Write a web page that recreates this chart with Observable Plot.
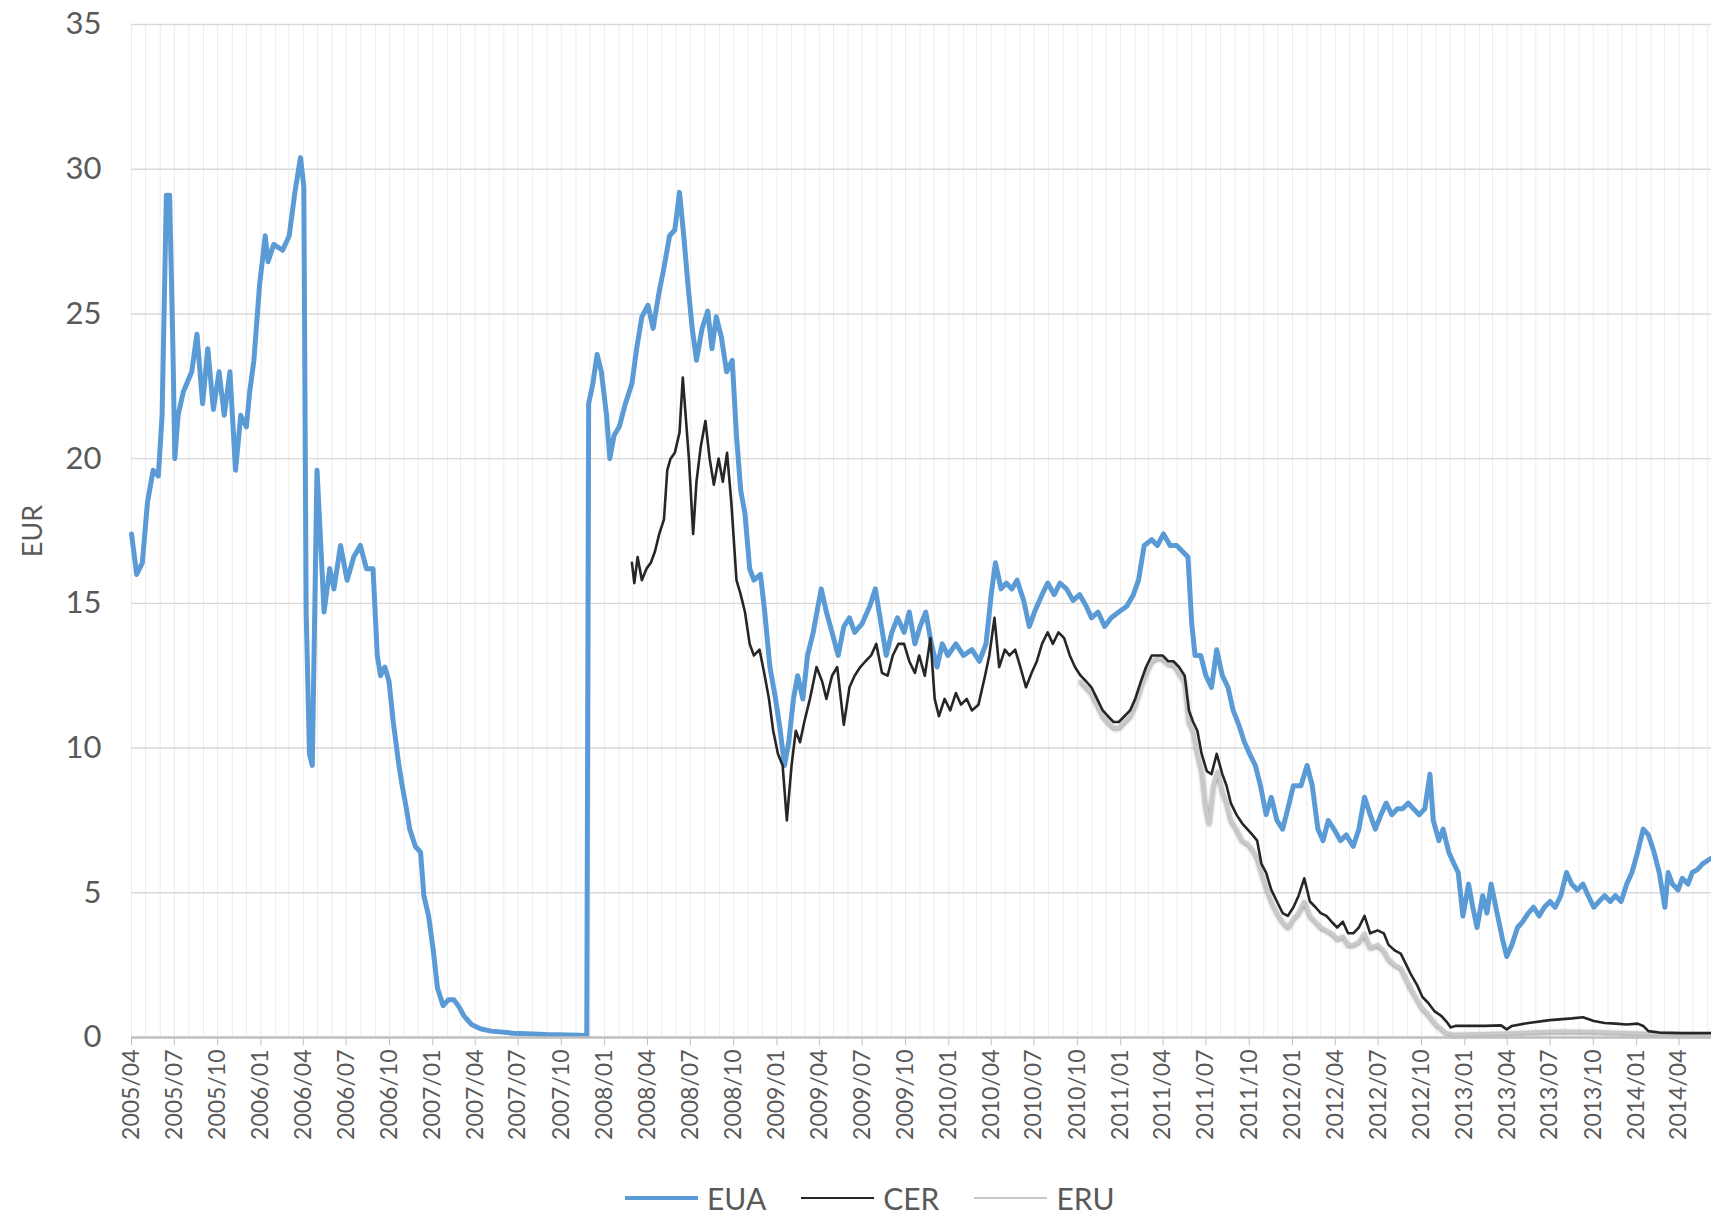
<!DOCTYPE html>
<html>
<head>
<meta charset="utf-8">
<script src="https://cdn.jsdelivr.net/npm/d3@7"></script>
<script src="https://cdn.jsdelivr.net/npm/@observablehq/plot@0.6"></script>
<style>
  html, body { margin: 0; padding: 0; background: #fff; }
  body { width: 1711px; height: 1217px; position: relative; overflow: hidden; font-family: Lato, "Open Sans", sans-serif; color: #595959; }
  #chart { position: absolute; left: 0; top: 0; }
  #legend { position: absolute; left: 625px; top: 1180px; display: flex; align-items: center; font-size: 30px; color: #595959; }
  .item { display: flex; align-items: center; margin-right: 35px; }
  .sw { width: 73px; margin-right: 9px; }
</style>
</head>
<body>
<div id="chart"></div>
<div id="legend"></div>
<script>
// ---- data ----
const seriesNames = ["EUA", "CER", "ERU"];
const seriesColors = ["#5b9bd5", "#262626", "#c9c9c9"];
const yTicks = [0, 5, 10, 15, 20, 25, 30, 35];

const euaData = [
["2005-04-01",17.4],["2005-04-12",16.0],["2005-04-24",16.4],["2005-05-05",18.5],["2005-05-17",19.6],["2005-05-28",19.4],
["2005-06-05",21.5],["2005-06-14",29.1],["2005-06-21",29.1],["2005-06-28",23.8],["2005-07-02",20.0],["2005-07-09",21.5],
["2005-07-20",22.3],["2005-08-07",23.0],["2005-08-18",24.3],["2005-08-30",21.9],["2005-09-10",23.8],["2005-09-22",21.7],
["2005-10-04",23.0],["2005-10-15",21.5],["2005-10-27",23.0],["2005-11-08",19.6],["2005-11-19",21.5],["2005-12-01",21.1],
["2005-12-08",22.3],["2005-12-17",23.4],["2005-12-29",26.0],["2006-01-10",27.7],["2006-01-16",26.8],["2006-01-28",27.4],
["2006-02-16",27.2],["2006-03-02",27.7],["2006-03-14",29.2],["2006-03-26",30.4],["2006-04-02",29.4],["2006-04-07",14.7],
["2006-04-14",9.8],["2006-04-20",9.4],["2006-04-30",19.6],["2006-05-06",17.7],["2006-05-15",14.7],["2006-05-27",16.2],
["2006-06-05",15.5],["2006-06-19",17.0],["2006-07-03",15.8],["2006-07-17",16.6],["2006-07-31",17.0],["2006-08-13",16.2],
["2006-08-27",16.2],["2006-09-05",13.2],["2006-09-12",12.5],["2006-09-21",12.8],["2006-09-30",12.3],["2006-10-09",10.9],
["2006-10-21",9.4],["2006-10-28",8.7],["2006-11-06",7.9],["2006-11-13",7.2],["2006-11-25",6.6],["2006-12-06",6.4],
["2006-12-13",4.9],["2006-12-23",4.2],["2007-01-02",3.0],["2007-01-11",1.7],["2007-01-23",1.1],["2007-02-03",1.3],
["2007-02-15",1.3],["2007-02-26",1.05],["2007-03-08",0.75],["2007-03-24",0.45],["2007-04-12",0.3],["2007-05-05",0.22],
["2007-06-21",0.15],["2007-08-30",0.1],["2007-11-08",0.08],["2007-11-24",0.06],["2007-11-28",21.9],["2007-12-07",22.6],
["2007-12-16",23.6],["2007-12-25",23.0],["2008-01-05",21.5],["2008-01-12",20.0],["2008-01-21",20.8],["2008-02-01",21.1],
["2008-02-14",21.9],["2008-02-28",22.6],["2008-03-09",23.8],["2008-03-20",24.9],["2008-04-02",25.3],["2008-04-13",24.5],
["2008-04-25",25.7],["2008-05-06",26.6],["2008-05-18",27.7],["2008-05-29",27.9],["2008-06-08",29.2],["2008-06-17",27.7],
["2008-06-26",26.0],["2008-07-05",24.5],["2008-07-14",23.4],["2008-07-26",24.5],["2008-08-07",25.1],["2008-08-16",23.8],
["2008-08-25",24.9],["2008-09-05",24.2],["2008-09-16",23.0],["2008-09-28",23.4],["2008-10-07",20.8],["2008-10-16",18.9],
["2008-10-25",18.1],["2008-11-04",16.2],["2008-11-13",15.8],["2008-11-27",16.0],["2008-12-06",14.7],["2008-12-17",12.8],
["2008-12-29",11.7],["2009-01-08",10.6],["2009-01-17",9.4],["2009-01-26",10.2],["2009-02-05",11.7],["2009-02-14",12.5],
["2009-02-25",11.7],["2009-03-07",13.2],["2009-03-19",14.0],["2009-04-05",15.5],["2009-04-16",14.7],["2009-04-28",14.0],
["2009-05-11",13.2],["2009-05-23",14.2],["2009-06-04",14.5],["2009-06-15",14.0],["2009-07-01",14.3],["2009-07-17",14.9],
["2009-07-29",15.5],["2009-08-10",14.3],["2009-08-21",13.2],["2009-09-02",14.0],["2009-09-14",14.5],["2009-09-28",14.0],
["2009-10-09",14.7],["2009-10-21",13.6],["2009-11-01",14.2],["2009-11-13",14.7],["2009-11-25",13.6],["2009-12-07",12.8],
["2009-12-18",13.6],["2009-12-30",13.2],["2010-01-16",13.6],["2010-02-01",13.2],["2010-02-19",13.4],["2010-03-07",13.0],
["2010-03-21",13.6],["2010-04-01",15.3],["2010-04-10",16.4],["2010-04-22",15.5],["2010-05-03",15.7],["2010-05-15",15.5],
["2010-05-26",15.8],["2010-06-09",15.1],["2010-06-21",14.2],["2010-07-02",14.7],["2010-07-18",15.3],["2010-07-30",15.7],
["2010-08-13",15.3],["2010-08-25",15.7],["2010-09-08",15.5],["2010-09-22",15.1],["2010-10-06",15.3],["2010-10-20",14.9],
["2010-10-31",14.5],["2010-11-14",14.7],["2010-11-28",14.2],["2010-12-12",14.5],["2010-12-28",14.7],["2011-01-14",14.9],
["2011-01-28",15.3],["2011-02-08",15.8],["2011-02-20",17.0],["2011-03-08",17.2],["2011-03-20",17.0],["2011-04-02",17.4],
["2011-04-16",17.0],["2011-04-30",17.0],["2011-05-12",16.8],["2011-05-24",16.6],["2011-06-01",14.3],["2011-06-08",13.2],
["2011-06-20",13.2],["2011-07-01",12.5],["2011-07-13",12.1],["2011-07-24",13.4],["2011-08-05",12.5],["2011-08-17",12.1],
["2011-08-28",11.3],["2011-09-09",10.8],["2011-09-21",10.2],["2011-10-02",9.8],["2011-10-14",9.4],["2011-10-25",8.7],
["2011-11-06",7.7],["2011-11-17",8.3],["2011-11-29",7.5],["2011-12-11",7.2],["2011-12-22",7.9],["2012-01-03",8.7],
["2012-01-19",8.7],["2012-02-01",9.4],["2012-02-12",8.7],["2012-02-24",7.2],["2012-03-06",6.8],["2012-03-17",7.5],
["2012-03-29",7.2],["2012-04-12",6.8],["2012-04-24",7.0],["2012-05-09",6.6],["2012-05-21",7.2],["2012-06-02",8.3],
["2012-06-14",7.7],["2012-06-25",7.2],["2012-07-07",7.7],["2012-07-18",8.1],["2012-07-30",7.7],["2012-08-11",7.9],
["2012-08-22",7.9],["2012-09-03",8.1],["2012-09-14",7.9],["2012-09-26",7.7],["2012-10-08",7.9],["2012-10-19",9.1],
["2012-10-26",7.5],["2012-11-07",6.8],["2012-11-16",7.2],["2012-11-28",6.4],["2012-12-09",6.0],["2012-12-18",5.7],
["2012-12-28",4.2],["2013-01-09",5.3],["2013-01-18",4.5],["2013-01-27",3.8],["2013-02-08",4.9],["2013-02-17",4.3],
["2013-02-26",5.3],["2013-03-08",4.5],["2013-03-22",3.4],["2013-03-31",2.8],["2013-04-11",3.2],["2013-04-23",3.8],
["2013-05-04",4.0],["2013-05-16",4.3],["2013-05-27",4.5],["2013-06-08",4.2],["2013-06-19",4.5],["2013-07-01",4.7],
["2013-07-12",4.5],["2013-07-24",4.9],["2013-08-05",5.7],["2013-08-16",5.3],["2013-08-28",5.1],["2013-09-09",5.3],
["2013-09-20",4.9],["2013-10-02",4.5],["2013-10-13",4.7],["2013-10-25",4.9],["2013-11-06",4.7],["2013-11-17",4.9],
["2013-11-29",4.7],["2013-12-11",5.3],["2013-12-22",5.7],["2014-01-03",6.4],["2014-01-15",7.2],["2014-01-26",7.0],
["2014-02-07",6.4],["2014-02-18",5.7],["2014-03-02",4.5],["2014-03-09",5.7],["2014-03-18",5.3],["2014-03-30",5.1],
["2014-04-08",5.5],["2014-04-20",5.3],["2014-04-29",5.7],["2014-05-10",5.8],["2014-05-21",6.0],["2014-06-09",6.2]
];

const cerData = [
["2008-02-28",16.4],["2008-03-04",15.7],["2008-03-11",16.6],["2008-03-20",15.8],["2008-03-30",16.2],["2008-04-08",16.4],
["2008-04-17",16.8],["2008-04-26",17.4],["2008-05-06",17.9],["2008-05-13",19.6],["2008-05-20",20.0],["2008-05-29",20.2],
["2008-06-08",20.9],["2008-06-15",22.8],["2008-06-21",21.5],["2008-06-28",20.0],["2008-07-07",17.4],["2008-07-14",19.2],
["2008-07-23",20.4],["2008-08-02",21.3],["2008-08-11",20.0],["2008-08-20",19.1],["2008-08-30",20.0],["2008-09-08",19.2],
["2008-09-17",20.2],["2008-09-26",18.5],["2008-10-07",15.8],["2008-10-16",15.3],["2008-10-25",14.7],["2008-11-04",13.6],
["2008-11-13",13.2],["2008-11-25",13.4],["2008-12-06",12.5],["2008-12-15",11.7],["2008-12-24",10.6],["2009-01-03",9.8],
["2009-01-13",9.4],["2009-01-22",7.5],["2009-02-01",9.4],["2009-02-10",10.6],["2009-02-19",10.2],["2009-02-28",10.9],
["2009-03-12",11.7],["2009-03-26",12.8],["2009-04-07",12.3],["2009-04-16",11.7],["2009-04-28",12.5],["2009-05-09",12.8],
["2009-05-23",10.8],["2009-06-04",12.1],["2009-06-15",12.5],["2009-06-27",12.8],["2009-07-08",13.0],["2009-07-20",13.2],
["2009-07-31",13.6],["2009-08-12",12.6],["2009-08-24",12.5],["2009-09-04",13.2],["2009-09-16",13.6],["2009-09-28",13.6],
["2009-10-09",13.0],["2009-10-21",12.6],["2009-10-30",13.2],["2009-11-11",12.5],["2009-11-23",13.8],["2009-12-02",11.7],
["2009-12-11",11.1],["2009-12-23",11.7],["2010-01-04",11.3],["2010-01-16",11.9],["2010-01-27",11.5],["2010-02-08",11.7],
["2010-02-19",11.3],["2010-03-05",11.5],["2010-03-19",12.5],["2010-03-28",13.2],["2010-04-08",14.5],["2010-04-18",12.8],
["2010-04-30",13.4],["2010-05-10",13.2],["2010-05-22",13.4],["2010-06-02",12.8],["2010-06-14",12.1],["2010-06-26",12.6],
["2010-07-07",13.0],["2010-07-18",13.6],["2010-07-30",14.0],["2010-08-10",13.6],["2010-08-22",14.0],["2010-09-03",13.8],
["2010-09-15",13.2],["2010-09-26",12.8],["2010-10-08",12.5],["2010-10-20",12.3],["2010-10-31",12.1],["2010-11-12",11.7],
["2010-11-24",11.3],["2010-12-05",11.1],["2010-12-17",10.9],["2010-12-28",10.9],["2011-01-09",11.1],["2011-01-21",11.3],
["2011-02-01",11.7],["2011-02-13",12.3],["2011-02-24",12.8],["2011-03-08",13.2],["2011-03-20",13.2],["2011-03-31",13.2],
["2011-04-12",13.0],["2011-04-23",13.0],["2011-05-05",12.8],["2011-05-17",12.5],["2011-05-26",11.3],["2011-06-04",10.9],
["2011-06-13",10.6],["2011-06-22",9.8],["2011-07-03",9.2],["2011-07-13",9.1],["2011-07-24",9.8],["2011-08-05",9.1],
["2011-08-14",8.7],["2011-08-23",8.1],["2011-09-04",7.7],["2011-09-16",7.4],["2011-09-27",7.2],["2011-10-08",7.0],
["2011-10-18",6.8],["2011-10-27",6.0],["2011-11-06",5.7],["2011-11-17",5.1],["2011-11-29",4.7],["2011-12-11",4.3],
["2011-12-22",4.2],["2012-01-03",4.5],["2012-01-14",4.9],["2012-01-26",5.5],["2012-02-07",4.7],["2012-02-19",4.5],
["2012-03-01",4.3],["2012-03-13",4.2],["2012-03-24",4.0],["2012-04-05",3.8],["2012-04-17",4.0],["2012-04-28",3.6],
["2012-05-09",3.6],["2012-05-21",3.8],["2012-06-02",4.2],["2012-06-14",3.6],["2012-06-30",3.7],["2012-07-13",3.6],
["2012-07-23",3.2],["2012-08-06",3.0],["2012-08-18",2.9],["2012-08-30",2.5],["2012-09-08",2.2],["2012-09-22",1.8],
["2012-10-03",1.4],["2012-10-15",1.2],["2012-10-29",0.9],["2012-11-12",0.75],["2012-11-23",0.55],["2012-12-02",0.35],
["2012-12-12",0.4],["2013-01-09",0.4],["2013-02-13",0.4],["2013-03-19",0.42],["2013-03-31",0.28],["2013-04-11",0.4],
["2013-05-16",0.5],["2013-07-01",0.6],["2013-08-16",0.66],["2013-09-09",0.7],["2013-10-02",0.57],["2013-10-25",0.5],
["2013-11-17",0.48],["2013-12-11",0.45],["2014-01-03",0.48],["2014-01-15",0.4],["2014-01-26",0.22],["2014-02-18",0.17],
["2014-04-06",0.15],["2014-06-09",0.15]
];

const eruData = [
["2010-10-08",12.3],["2010-10-20",12.1],["2010-10-31",11.9],["2010-11-12",11.5],["2010-11-24",11.1],["2010-12-05",10.9],
["2010-12-17",10.7],["2010-12-28",10.7],["2011-01-09",10.9],["2011-01-21",11.1],["2011-02-01",11.5],["2011-02-13",12.1],
["2011-02-24",12.6],["2011-03-08",13.0],["2011-03-20",13.1],["2011-03-31",13.1],["2011-04-12",12.9],["2011-04-23",12.9],
["2011-05-05",12.6],["2011-05-17",12.3],["2011-05-26",10.9],["2011-06-04",10.6],["2011-06-13",9.8],["2011-06-22",9.2],
["2011-07-01",7.9],["2011-07-08",7.4],["2011-07-17",8.7],["2011-07-26",9.2],["2011-08-05",8.5],["2011-08-14",8.1],
["2011-08-23",7.5],["2011-09-04",7.2],["2011-09-16",6.8],["2011-09-27",6.7],["2011-10-08",6.5],["2011-10-18",6.2],
["2011-10-27",5.7],["2011-11-06",5.2],["2011-11-17",4.7],["2011-11-29",4.3],["2011-12-11",4.0],["2011-12-22",3.8],
["2012-01-03",4.1],["2012-01-14",4.3],["2012-01-26",4.7],["2012-02-07",4.2],["2012-02-19",4.0],["2012-03-01",3.8],
["2012-03-13",3.7],["2012-03-24",3.6],["2012-04-05",3.4],["2012-04-17",3.5],["2012-04-28",3.2],["2012-05-09",3.2],
["2012-05-21",3.3],["2012-06-02",3.6],["2012-06-14",3.1],["2012-06-30",3.2],["2012-07-13",3.0],["2012-07-23",2.7],
["2012-08-06",2.5],["2012-08-18",2.4],["2012-08-30",2.0],["2012-09-08",1.7],["2012-09-22",1.3],["2012-10-03",1.0],
["2012-10-15",0.8],["2012-10-29",0.5],["2012-11-12",0.3],["2012-11-23",0.15],["2012-12-12",0.1],["2013-03-31",0.15],
["2013-07-24",0.22],["2013-10-02",0.2],["2014-01-03",0.15],["2014-06-09",0.1]
];

// ---- build tables ----
const toRows = (arr, name) => arr.map(([d, v]) => ({date: new Date(d), value: v, series: name}));
const eua = toRows(euaData, "EUA");
const cer = toRows(cerData, "CER");
const eru = toRows(eruData, "ERU");

const x0 = new Date("2005-04-01"), x1 = new Date("2014-06-09");
const monthTicks = d3.utcMonth.range(x0, x1);
const quarterTicks = d3.utcMonth.every(3).range(x0, x1);
const yMid = (yTicks[0] + yTicks[yTicks.length - 1]) / 2;

const plot = Plot.plot({
  width: 1711,
  height: 1150,
  marginLeft: 131,
  marginRight: 0,
  marginTop: 24,
  marginBottom: 113,
  style: {fontFamily: "Lato, 'Open Sans', sans-serif", color: "#595959", background: "#fff", overflow: "visible"},
  x: {type: "utc", domain: [x0, x1]},
  y: {domain: [yTicks[0], yTicks[yTicks.length - 1]]},
  marks: [
    Plot.ruleX(monthTicks, {stroke: "#ececec", strokeWidth: 1}),
    Plot.ruleY(yTicks.filter(d => d > 0), {stroke: "#d9d9d9", strokeWidth: 1.4}),
    Plot.axisY({ticks: yTicks, tickSize: 0, tickPadding: 30, fontSize: 31, label: null, fill: "#595959"}),
    Plot.axisX({ticks: quarterTicks, tickFormat: d3.utcFormat("%Y/%m"), tickRotate: -90, tickSize: 8, tickPadding: 4, fontSize: 23, label: null, stroke: "#bfbfbf", fill: "#595959"}),
    Plot.text(["EUR"], {x: () => x0, y: () => yMid, dx: -98, rotate: -90, fontSize: 27, fill: "#595959", textAnchor: "middle"}),
    Plot.lineY(eua, {x: "date", y: "value", stroke: seriesColors[0], strokeWidth: 5, curve: "linear"}),
    Plot.lineY(eru, {x: "date", y: "value", stroke: seriesColors[2], strokeWidth: 3.5, curve: "linear"}),
    Plot.lineY(cer, {x: "date", y: "value", stroke: seriesColors[1], strokeWidth: 2.6, curve: "linear"}),
    Plot.ruleY([0], {stroke: "#bfbfbf", strokeWidth: 2.5})
  ]
});
document.getElementById("chart").appendChild(plot);

// soft shadow on the ERU line, as in the reference
plot.querySelectorAll('g[stroke="' + seriesColors[2] + '"]').forEach(g => g.style.filter = "drop-shadow(0px 1px 1.5px rgba(0,0,0,0.45))");

// ---- legend ----
const legend = document.getElementById("legend");
seriesNames.forEach((name, i) => {
  const item = document.createElement("div");
  item.className = "item";
  const sw = document.createElement("div");
  sw.className = "sw";
  sw.style.borderTop = (i === 0 ? 4 : i === 1 ? 2 : 2.5) + "px solid " + seriesColors[i];
  const t = document.createElement("span");
  t.textContent = name;
  item.appendChild(sw);
  item.appendChild(t);
  legend.appendChild(item);
});
</script>
</body>
</html>
